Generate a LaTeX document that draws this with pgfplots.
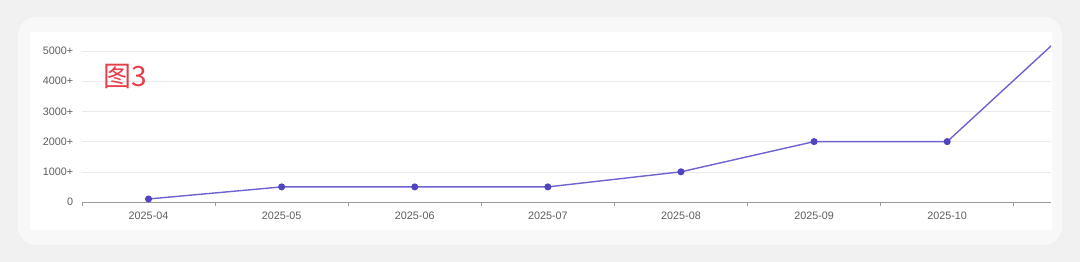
\documentclass[border=0pt]{standalone}
\usepackage{pgfplots}
\pgfplotsset{compat=1.18}
\usepackage{fontspec}
\setmainfont{Liberation Sans}
\newfontfamily\cjk{Noto Sans CJK SC}
\definecolor{bgout}{HTML}{F1F1F1}
\definecolor{card}{HTML}{F8F8F8}
\definecolor{linec}{HTML}{6E63D0}
\definecolor{markc}{HTML}{5045C0}
\definecolor{gridc}{HTML}{E9E9EF}
\definecolor{txtc}{HTML}{5E5E5E}
\definecolor{axc}{HTML}{9A9A9A}
\definecolor{redt}{HTML}{E8404A}
\begin{document}
\begin{tikzpicture}
\useasboundingbox (0pt,0pt) rectangle (1080pt,262pt);
\fill[bgout] (0pt,0pt) rectangle (1080pt,262pt);
\fill[black!6,rounded corners=18pt] (17pt,15pt) rectangle (1064pt,247pt);
\fill[card,rounded corners=18pt] (18pt,17pt) rectangle (1062pt,245pt);
\fill[white] (30pt,32pt) rectangle (1052pt,230pt);
\begin{axis}[
  at={(82pt,60pt)}, anchor=south west,
  scale only axis, width=969pt, height=157pt,
  xmin=-0.5, xmax=6.78, ymin=0, ymax=5200,
  axis x line*=bottom, axis y line*=left,
  y axis line style={draw=none},
  x axis line style={axc, line width=0.8pt},
  xtick={0,...,6},
  xticklabels={2025-04,2025-05,2025-06,2025-07,2025-08,2025-09,2025-10},
  minor xtick={-0.5,0.5,...,6.5},
  major x tick style={draw=none},
  minor x tick style={axc, line width=0.8pt},
  minor tick length=4pt,
  tick align=outside,
  ytick={0,1000,2000,3000,4000,5000},
  yticklabels={0,1000+,2000+,3000+,4000+,5000+},
  major y tick style={draw=none},
  ymajorgrids, grid style={gridc, line width=0.6pt},
  tick label style={font=\fontsize{10.8}{12}\selectfont, text=txtc},
  xticklabel style={yshift=-2pt},
  yticklabel style={xshift=-1pt},
  clip=true,
]
\addplot[linec, line width=1.4pt, mark=*, mark size=2.8pt,
  mark options={fill=markc, draw=markc}] coordinates {
  (0,100) (1,500) (2,500) (3,500) (4,1000) (5,2000) (6,2000) (7,6060)};
\end{axis}
\node[anchor=west, text=redt, font=\cjk\fontsize{28}{30}\selectfont] at (100pt,186pt) {图3};
\end{tikzpicture}
\end{document}
